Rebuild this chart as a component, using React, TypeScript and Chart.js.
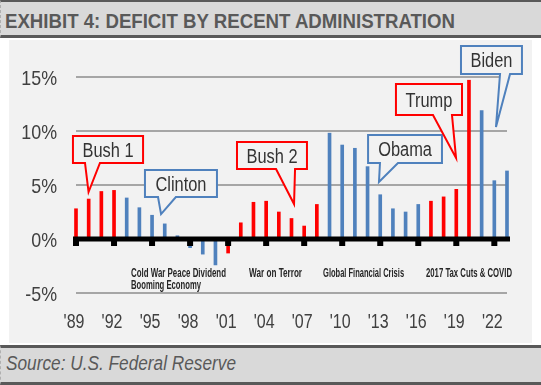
import React, { useEffect, useRef } from 'react';
import { Chart, registerables } from 'chart.js';

Chart.register(...registerables);

// ---------- data ----------
const years = [
  1989, 1990, 1991, 1992, 1993, 1994, 1995, 1996, 1997, 1998, 1999, 2000,
  2001, 2002, 2003, 2004, 2005, 2006, 2007, 2008, 2009, 2010, 2011, 2012,
  2013, 2014, 2015, 2016, 2017, 2018, 2019, 2020, 2021, 2022, 2023,
];
// federal deficit, % of GDP (positive = deficit)
const deficit = [
  2.8, 3.7, 4.4, 4.5, 3.8, 2.9, 2.2, 1.4, 0.3, -0.8, -1.4, -2.4,
  -1.3, 1.5, 3.4, 3.5, 2.5, 1.9, 1.2, 3.2, 9.8, 8.7, 8.4, 6.7,
  4.1, 2.8, 2.5, 3.2, 3.5, 3.9, 4.6, 14.7, 11.9, 5.4, 6.3,
];
const party = [
  'R', 'R', 'R', 'R', 'D', 'D', 'D', 'D', 'D', 'D', 'D', 'D',
  'R', 'R', 'R', 'R', 'R', 'R', 'R', 'R', 'D', 'D', 'D', 'D',
  'D', 'D', 'D', 'D', 'R', 'R', 'R', 'R', 'D', 'D', 'D',
];
const tickYears = [1989, 1992, 1995, 1998, 2001, 2004, 2007, 2010, 2013, 2016, 2019, 2022];
const tickLabels = ["'89", "'92", "'95", "'98", "'01", "'04", "'07", "'10", "'13", "'16", "'19", "'22"];
const yTicks = [-5, 0, 5, 10, 15];

// callouts: box [yearLeft, yearRight, valueTop, valueBottom], pointer base [yearL, yearR], tip [year, value]
const calloutLabels = ['Bush 1', 'Clinton', 'Bush 2', 'Obama', 'Trump', 'Biden'];
const calloutParty = ['R', 'D', 'R', 'D', 'R', 'D'];
const calloutBox = [
  [1988.76, 1994.29, 9.54, 7.04],
  [1994.44, 2000.12, 6.39, 3.89],
  [2001.7, 2007.22, 8.98, 6.48],
  [2012.04, 2017.87, 9.63, 7.04],
  [2014.24, 2019.45, 14.35, 11.48],
  [2019.37, 2024.18, 17.87, 15.28],
];
const calloutBase = [
  [1989.71, 1990.89],
  [1995.47, 1996.88],
  [2004.78, 2006.28],
  [2012.98, 2014.4],
  [2017.16, 2018.66],
  [2022.45, 2023.24],
];
const calloutTip = [
  [1989.99, 4.35],
  [1995.71, 2.31],
  [2006.2, 3.24],
  [2012.9, 5.28],
  [2018.98, 7.5],
  [2022.13, 10.37],
];

// captions below the zero line: [year (left edge), value (baseline of first line)]
const captionLines = [
  ['Cold War Peace Dividend', 'Booming Economy'],
  ['War on Terror'],
  ['Global Financial Crisis'],
  ['2017 Tax Cuts & COVID'],
];
const captionAt = [
  [1993.34, -3.52],
  [2002.65, -3.52],
  [2008.49, -3.52],
  [2016.61, -3.52],
];

// ---------- styles ----------
const RED = '#FF0000';
const BLUE = '#4F81BD';
const PANEL = '#F2F2F2';
const SANS = '"Liberation Sans", Arial, sans-serif';
const captionWidths = [[95, 70], [53], [81], [86]];

function narrowText(
  ctx: CanvasRenderingContext2D, text: string, x: number, y: number,
  font: string, sx: number, align: CanvasTextAlign,
) {
  ctx.save();
  ctx.font = font;
  ctx.textAlign = align;
  ctx.textBaseline = 'alphabetic';
  ctx.translate(x, y);
  ctx.scale(sx, 1);
  ctx.fillText(text, 0, 0);
  ctx.restore();
}

const overlayPlugin = {
  id: 'overlay',
  afterDatasetsDraw(chart: any) {
    const { ctx, chartArea, scales } = chart;
    const xs = scales.x;
    const ys = scales.y;
    const xOf = (yr: number) => xs.getPixelForValue(yr - years[0]);
    const y0 = ys.getPixelForValue(0);
    ctx.save();
    ctx.fillStyle = '#000';
    ctx.fillRect(chartArea.left - 3, y0 - 2.5, chartArea.right - chartArea.left + 6, 5);
    tickYears.forEach((yr) => {
      const x = xOf(yr);
      ctx.fillRect(x - 3, y0, 6, 7);
    });
    ctx.restore();
  },
  afterDraw(chart: any) {
    const { ctx, scales, chartArea } = chart;
    const xs = scales.x;
    const ys = scales.y;
    const xOf = (yr: number) => xs.getPixelForValue(yr - years[0]);
    const yOf = (v: number) => ys.getPixelForValue(v);
    ctx.save();

    // axis tick labels
    ctx.fillStyle = '#404040';
    ys.ticks.forEach((t: any) => {
      narrowText(ctx, `${t.value}%`, chartArea.left - 19, yOf(t.value) + 7.5, `21px ${SANS}`, 0.85, 'right');
    });
    tickYears.forEach((yr, i) => {
      narrowText(ctx, tickLabels[i], xOf(yr) - 2, chartArea.bottom + 35, `20px ${SANS}`, 0.8, 'center');
    });

    // callouts
    calloutLabels.forEach((label, i) => {
      const [bx0, bx1, byT, byB] = calloutBox[i];
      const x0 = xOf(bx0), x1 = xOf(bx1), yT = yOf(byT), yB = yOf(byB);
      const b0 = xOf(calloutBase[i][0]), b1 = xOf(calloutBase[i][1]);
      const tx = xOf(calloutTip[i][0]), ty = yOf(calloutTip[i][1]);
      ctx.beginPath();
      ctx.moveTo(x0, yT);
      ctx.lineTo(x1, yT);
      ctx.lineTo(x1, yB);
      ctx.lineTo(b1, yB);
      ctx.lineTo(tx, ty);
      ctx.lineTo(b0, yB);
      ctx.lineTo(x0, yB);
      ctx.closePath();
      ctx.fillStyle = PANEL;
      ctx.fill();
      ctx.lineWidth = 2;
      ctx.lineJoin = 'miter';
      ctx.strokeStyle = calloutParty[i] === 'R' ? RED : BLUE;
      ctx.stroke();
      ctx.fillStyle = '#333333';
      narrowText(ctx, label, (x0 + x1) / 2, (yT + yB) / 2 + 7.5, `20px ${SANS}`, 0.82, 'center');
    });

    // captions
    ctx.fillStyle = '#262626';
    ctx.font = `bold 12px ${SANS}`;
    ctx.textAlign = 'left';
    ctx.textBaseline = 'alphabetic';
    captionLines.forEach((lines, i) => {
      const x = xOf(captionAt[i][0]);
      const y = yOf(captionAt[i][1]);
      lines.forEach((line, j) => {
        ctx.fillText(line, x, y + j * 11.5, captionWidths[i][j]);
      });
    });
    ctx.restore();
  },
};

export default function App() {
  const canvasRef = useRef<HTMLCanvasElement | null>(null);
  const titleRef = useRef<HTMLSpanElement | null>(null);
  const sourceRef = useRef<HTMLSpanElement | null>(null);

  useEffect(() => {
    const fit = (el: HTMLSpanElement | null, target: number) => {
      if (!el) return;
      el.style.transform = 'none';
      const w = el.getBoundingClientRect().width;
      if (w > 0) el.style.transform = `scaleX(${target / w})`;
    };
    fit(titleRef.current, 450);
    fit(sourceRef.current, 230);

    if (!canvasRef.current) return;
    const chart = new Chart(canvasRef.current, {
      type: 'bar',
      data: {
        labels: years.map(String),
        datasets: [
          {
            data: deficit,
            backgroundColor: party.map((p) => (p === 'R' ? RED : BLUE)),
            barThickness: 3,
            clip: false as any,
          },
        ],
      },
      options: {
        animation: false,
        responsive: true,
        maintainAspectRatio: false,
        layout: { padding: { top: 37, right: 25, left: 0, bottom: 0 } },
        plugins: { legend: { display: false }, tooltip: { enabled: false } },
        scales: {
          x: {
            type: 'category',
            offset: false,
            grid: { display: false, drawTicks: false },
            border: { display: false },
            afterFit: (s: any) => { s.height = 50; },
            ticks: { display: false, autoSkip: false },
          },
          y: {
            min: -5,
            max: 15,
            afterFit: (s: any) => { s.width = 67; },
            afterBuildTicks: (s: any) => { s.ticks = yTicks.map((v) => ({ value: v })); },
            grid: {
              drawTicks: false,
              color: (c: any) => (c.tick && c.tick.value === 0 ? 'rgba(0,0,0,0)' : '#A6A6A6'),
              lineWidth: 2,
            },
            border: { display: false },
            ticks: { display: false },
          },
        },
      },
      plugins: [overlayPlugin],
    });
    return () => chart.destroy();
  }, []);

  return (
    <div style={{ position: 'fixed', left: 0, top: 0, width: 541, height: 385, background: '#fff', overflow: 'hidden' }}>
      <div
        style={{
          position: 'absolute', left: 0, top: 0, width: 541, height: 38, boxSizing: 'border-box',
          background: '#D9D9D9', borderTop: '2px solid #595959', borderBottom: '3px solid #595959',
          borderLeft: '1px dashed #B0B0B0',
        }}
      >
        <span
          ref={titleRef}
          style={{
            position: 'absolute', left: 4, top: 8, display: 'inline-block', whiteSpace: 'nowrap',
            transformOrigin: 'left center', font: `bold 21px/21px ${SANS}`, color: '#595959',
          }}
        >
          EXHIBIT 4: DEFICIT BY RECENT ADMINISTRATION
        </span>
      </div>
      <div style={{ position: 'absolute', left: 9, top: 40, width: 523, height: 303, background: PANEL }}>
        <canvas ref={canvasRef} />
      </div>
      <div
        style={{
          position: 'absolute', left: 0, top: 345, width: 541, height: 40, boxSizing: 'border-box',
          background: '#D9D9D9', borderTop: '3px solid #595959', borderBottom: '3px solid #595959',
          borderLeft: '1px dashed #B0B0B0',
        }}
      >
        <span
          ref={sourceRef}
          style={{
            position: 'absolute', left: 5, top: 5, display: 'inline-block', whiteSpace: 'nowrap',
            transformOrigin: 'left center', font: `italic 20px/20px ${SANS}`, color: '#595959',
          }}
        >
          Source: U.S. Federal Reserve
        </span>
      </div>
    </div>
  );
}
